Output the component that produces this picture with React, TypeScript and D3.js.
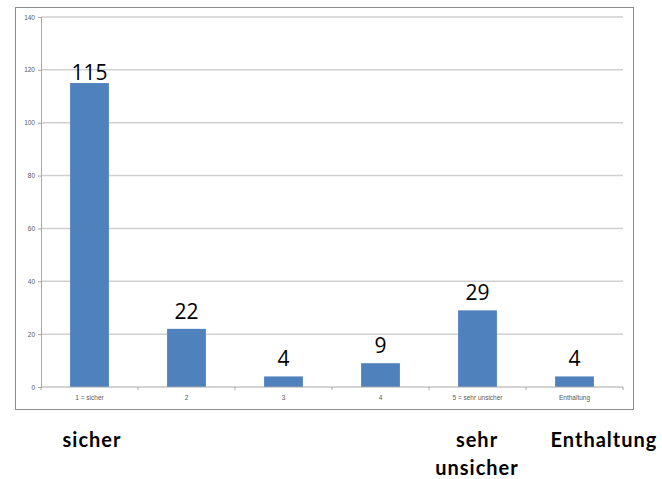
import React, { useEffect, useRef } from "react";
import * as d3 from "d3";

const categories = ["1 = sicher", "2", "3", "4", "5 = sehr unsicher", "Enthaltung"];
const values = [115, 22, 4, 9, 29, 4];
const yTicks = [0, 20, 40, 60, 80, 100, 120, 140];
const footLabels = [
  { lines: ["sicher"], x: 92 },
  { lines: ["sehr", "unsicher"], x: 477 },
  { lines: ["Enthaltung"], x: 604 },
];

const App = () => {
  const svgRef = useRef<SVGSVGElement>(null);

  useEffect(() => {
    const width = 662;
    const height = 479;
    const svg = d3.select(svgRef.current).attr("width", width).attr("height", height);
    svg.selectAll("*").remove();

    const plot = { left: 41, right: 623, top: 17, bottom: 387 };

    // chart frame
    svg
      .append("rect")
      .attr("x", 15.5)
      .attr("y", 7.5)
      .attr("width", 618)
      .attr("height", 402)
      .attr("fill", "#fff")
      .attr("stroke", "#8c8c8c")
      .attr("stroke-width", 1);

    const x = d3.scaleBand().domain(categories).range([plot.left, plot.right]).paddingInner(0.6).paddingOuter(0.3);
    const y = d3.scaleLinear().domain([0, 140]).range([plot.bottom, plot.top]);

    // gridlines
    svg
      .append("g")
      .selectAll("line")
      .data(yTicks.filter((t) => t > 0))
      .join("line")
      .attr("x1", plot.left)
      .attr("x2", plot.right)
      .attr("y1", (d) => y(d))
      .attr("y2", (d) => y(d))
      .attr("stroke", "#d0d0d0")
      .attr("stroke-width", 1.5);

    // y axis
    const yAxis = svg
      .append("g")
      .attr("transform", `translate(${plot.left},0)`)
      .call(d3.axisLeft(y).tickValues(yTicks).tickSize(3).tickPadding(3));
    yAxis.select(".domain").attr("stroke", "#a6a6a6");
    yAxis.selectAll(".tick line").attr("stroke", "#a6a6a6");
    yAxis
      .selectAll("text")
      .attr("fill", "#595959")
      .style("font-family", "Liberation Sans, Arial, sans-serif")
      .style("font-size", "6.5px");

    // bars
    svg
      .append("g")
      .selectAll("rect")
      .data(values)
      .join("rect")
      .attr("x", (_, i) => x(categories[i])!)
      .attr("y", (d) => y(d))
      .attr("width", x.bandwidth())
      .attr("height", (d) => y(0) - y(d))
      .attr("fill", "#4f81bd");

    // x axis
    const step = (plot.right - plot.left) / categories.length;
    const bounds = d3.range(categories.length + 1).map((i) => plot.left + i * step);
    const xg = svg.append("g");
    xg.append("line")
      .attr("x1", plot.left)
      .attr("x2", plot.right)
      .attr("y1", plot.bottom)
      .attr("y2", plot.bottom)
      .attr("stroke", "#a6a6a6");
    xg.selectAll("line.tk")
      .data(bounds)
      .join("line")
      .attr("class", "tk")
      .attr("x1", (d) => d)
      .attr("x2", (d) => d)
      .attr("y1", plot.bottom)
      .attr("y2", plot.bottom + 3)
      .attr("stroke", "#a6a6a6");
    xg.selectAll("text")
      .data(categories)
      .join("text")
      .attr("x", (d) => x(d)! + x.bandwidth() / 2)
      .attr("y", 400)
      .attr("text-anchor", "middle")
      .attr("fill", "#595959")
      .style("font-family", "Liberation Sans, Arial, sans-serif")
      .style("font-size", "6.5px")
      .text((d) => d);

    // value labels
    svg
      .append("g")
      .selectAll("text")
      .data(values)
      .join("text")
      .attr("x", (_, i) => x(categories[i])! + x.bandwidth() / 2)
      .attr("y", (d) => Math.max(y(d) - 10, 80))
      .attr("text-anchor", "middle")
      .attr("fill", "#000")
      .style("font-family", "Open Sans, sans-serif")
      .style("font-size", "21px")
      .text((d) => d);

    // footer labels
    const foot = svg.append("g");
    footLabels.forEach((f) => {
      f.lines.forEach((line, j) => {
        foot
          .append("text")
          .attr("x", f.x)
          .attr("y", 447 + j * 28)
          .attr("text-anchor", "middle")
          .attr("fill", "#000")
          .style("font-family", "Lato, sans-serif")
          .style("font-weight", "700")
          .style("font-size", "20px")
          .style("letter-spacing", "1px")
          .text(line);
      });
    });
  }, []);

  return (
    <div style={{ position: "absolute", left: 0, top: 0 }}>
      <svg ref={svgRef} style={{ display: "block" }}></svg>
    </div>
  );
};

export default App;
